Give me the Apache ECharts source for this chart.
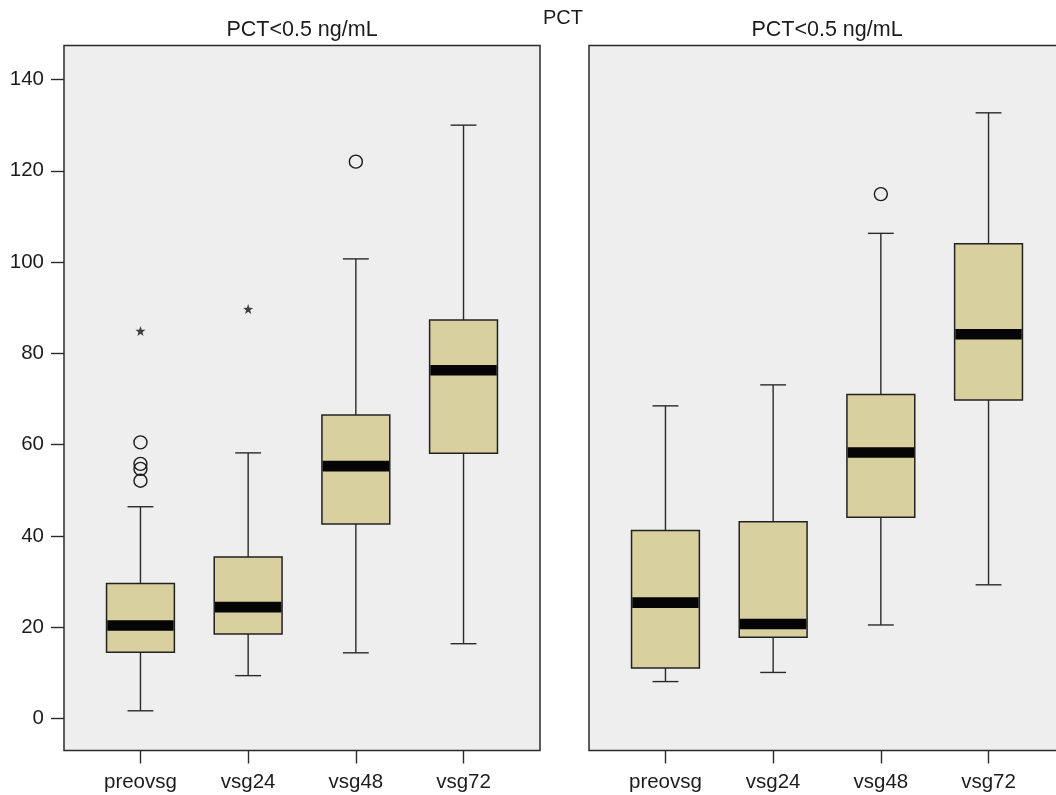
<!DOCTYPE html>
<html>
<head>
<meta charset="utf-8">
<title>PCT</title>
<script src="https://cdn.jsdelivr.net/npm/echarts@6/dist/echarts.min.js"></script>
<style>
  html, body { margin: 0; padding: 0; background: #fff; }
  #chart { width: 1056px; height: 795px; }
</style>
</head>
<body>
<div id="chart"></div>
<script>
// categories on the x axis (placed at 1..4 on a value axis)
const categories = ['preovsg', 'vsg24', 'vsg48', 'vsg72']
const yTicks = [0, 20, 40, 60, 80, 100, 120, 140]

// box stats: [low whisker, q1, median, q3, high whisker]
const leftBoxes = [
  [1.7, 14.5, 20.4, 29.6, 46.4],
  [9.4, 18.5, 24.4, 35.4, 58.2],
  [14.4, 42.6, 55.3, 66.5, 100.7],
  [16.4, 58.1, 76.3, 87.3, 130.0]
]
const rightBoxes = [
  [8.1, 11.1, 25.4, 41.2, 68.5],
  [10.1, 17.8, 20.7, 43.1, 73.1],
  [20.5, 44.1, 58.3, 71.0, 106.3],
  [29.3, 69.8, 84.2, 104.0, 132.7]
]

// outliers: [category position, value]
const leftOutliers = [[1, 60.5], [1, 55.8], [1, 54.7], [1, 52.1], [3, 122.0]]
const leftExtremes = [[1, 84.9], [2, 89.7]]
const rightOutliers = [[3, 114.9]]
const rightExtremes = []

const font = "'Liberation Sans', Arial, Helvetica, sans-serif"
const ink = '#1c1c1c'
const boxFill = '#d8d09e'
const panelBg = '#edeeed'
const starPath = 'path://M10,0 L12.35,6.76 L19.51,6.91 L13.8,11.24 L15.88,18.09 L10,14 L4.12,18.09 L6.2,11.24 L0.49,6.91 L7.65,6.76 Z'

function boxData(stats) {
  return stats.map((s, i) => [i + 1].concat(s))
}

function renderBox(params, api) {
  const x = api.value(0)
  const lo = api.coord([x, api.value(1)])
  const q1 = api.coord([x, api.value(2)])
  const med = api.coord([x, api.value(3)])
  const q3 = api.coord([x, api.value(4)])
  const hi = api.coord([x, api.value(5)])
  const halfBox = api.size([0.63, 0])[0] / 2
  const halfCap = api.size([0.24, 0])[0] / 2
  const cx = lo[0]
  const lineStyle = { stroke: '#2a2a2a', lineWidth: 1.4 }
  return {
    type: 'group',
    children: [
      { type: 'line', shape: { x1: cx, y1: lo[1], x2: cx, y2: hi[1] }, style: lineStyle },
      { type: 'line', shape: { x1: cx - halfCap, y1: lo[1], x2: cx + halfCap, y2: lo[1] }, style: lineStyle },
      { type: 'line', shape: { x1: cx - halfCap, y1: hi[1], x2: cx + halfCap, y2: hi[1] }, style: lineStyle },
      {
        type: 'rect',
        shape: { x: cx - halfBox, y: q3[1], width: halfBox * 2, height: q1[1] - q3[1] },
        style: { fill: boxFill, stroke: '#222', lineWidth: 1.5 }
      },
      {
        type: 'rect',
        shape: { x: cx - halfBox + 0.75, y: med[1] - 5.3, width: halfBox * 2 - 1.5, height: 10.6 },
        style: { fill: '#050505' }
      }
    ]
  }
}

function makeGrid(left) {
  return {
    left: left,
    top: 45.5,
    width: 476,
    height: 705,
    outerBoundsMode: 'none',
    containLabel: false,
    show: true,
    backgroundColor: panelBg,
    borderColor: '#2a2a2a',
    borderWidth: 1.5
  }
}

function makeXAxis(gridIndex) {
  return {
    type: 'value',
    gridIndex: gridIndex,
    position: 'bottom',
    min: 0.29,
    max: 4.71,
    splitLine: { show: false },
    axisLine: { show: false, onZero: false },
    axisTick: {
      show: true,
      length: 13,
      customValues: [1, 2, 3, 4],
      lineStyle: { color: '#2a2a2a', width: 1.4 }
    },
    axisLabel: {
      customValues: [1, 2, 3, 4],
      formatter: v => categories[Math.round(v) - 1],
      margin: 21,
      fontSize: 20.5,
      fontFamily: font,
      color: ink
    }
  }
}

function makeYAxis(gridIndex, showLabels) {
  return {
    type: 'value',
    gridIndex: gridIndex,
    min: -7,
    max: 147.45,
    splitLine: { show: false },
    axisLine: { show: false, onZero: false },
    axisTick: {
      show: showLabels,
      length: 13,
      customValues: yTicks,
      lineStyle: { color: '#2a2a2a', width: 1.4 }
    },
    axisLabel: {
      show: showLabels,
      customValues: yTicks,
      margin: 20,
      fontSize: 20.5,
      fontFamily: font,
      color: ink
    }
  }
}

function panelSeries(idx, boxes, outliers, extremes) {
  return [
    {
      type: 'custom',
      xAxisIndex: idx,
      yAxisIndex: idx,
      renderItem: renderBox,
      data: boxData(boxes),
      z: 2
    },
    {
      type: 'scatter',
      xAxisIndex: idx,
      yAxisIndex: idx,
      symbol: 'circle',
      symbolSize: 13,
      itemStyle: { color: 'rgba(0,0,0,0)', borderColor: '#1a1a1a', borderWidth: 1.4, opacity: 1 },
      data: outliers,
      z: 3
    },
    {
      type: 'scatter',
      xAxisIndex: idx,
      yAxisIndex: idx,
      symbol: starPath,
      symbolSize: 10,
      itemStyle: { color: '#111' },
      data: extremes,
      z: 3
    }
  ]
}

const chart = echarts.init(document.getElementById('chart'))
chart.setOption({
  animation: false,
  backgroundColor: '#fff',
  graphic: [
    { type: 'text', x: 563, y: 18, style: { text: 'PCT', font: '20px ' + font, fill: ink, align: 'center', verticalAlign: 'middle' } },
    { type: 'text', x: 302, y: 30, style: { text: 'PCT<0.5 ng/mL', font: '21.5px ' + font, fill: ink, align: 'center', verticalAlign: 'middle' } },
    { type: 'text', x: 827, y: 30, style: { text: 'PCT<0.5 ng/mL', font: '21.5px ' + font, fill: ink, align: 'center', verticalAlign: 'middle' } }
  ],
  grid: [makeGrid(64), makeGrid(589)],
  xAxis: [makeXAxis(0), makeXAxis(1)],
  yAxis: [makeYAxis(0, true), makeYAxis(1, false)],
  series: panelSeries(0, leftBoxes, leftOutliers, leftExtremes)
    .concat(panelSeries(1, rightBoxes, rightOutliers, rightExtremes))
})
</script>
</body>
</html>
